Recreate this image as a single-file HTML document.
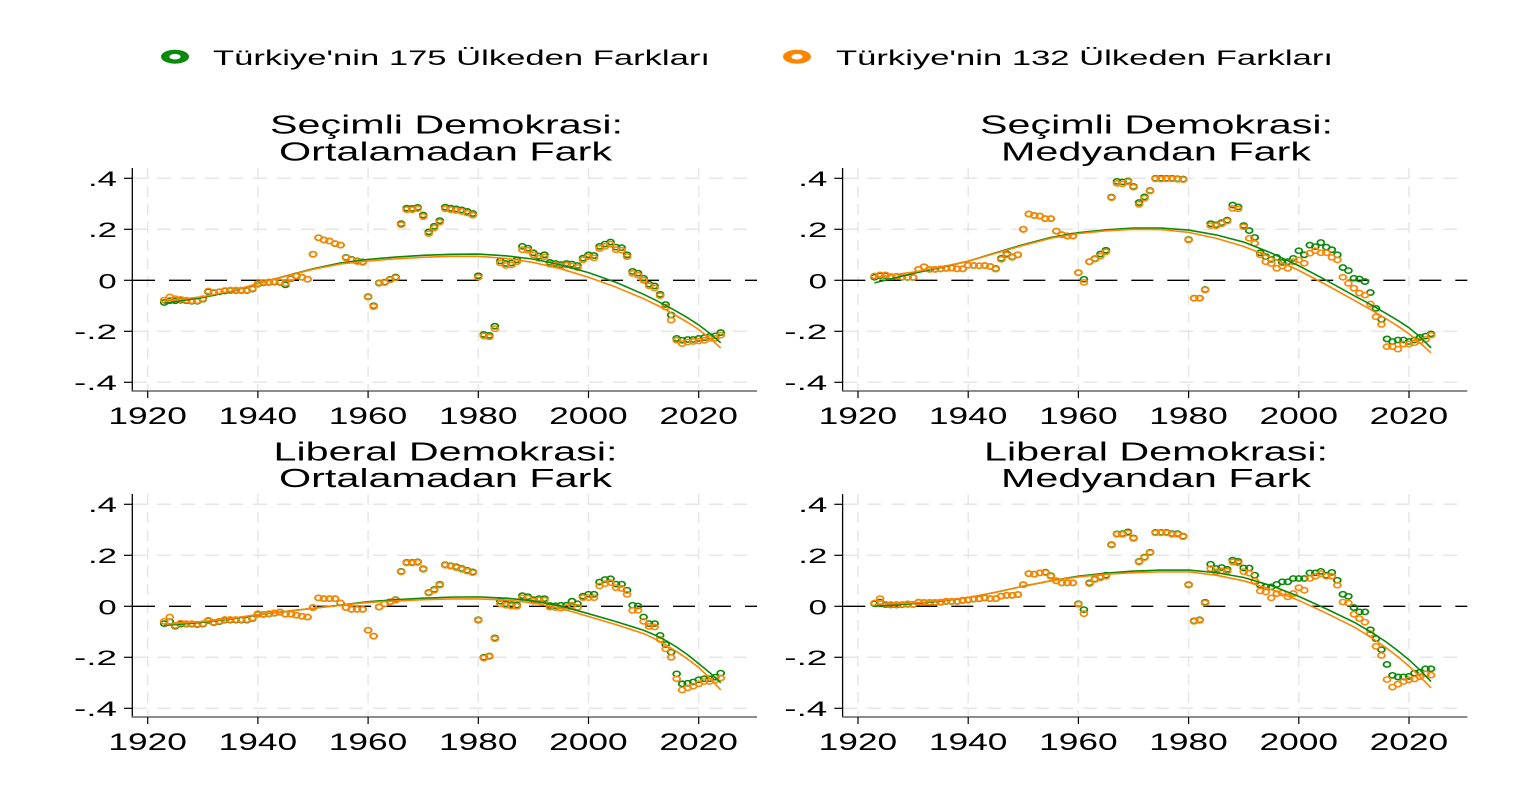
<!DOCTYPE html>
<html><head><meta charset="utf-8"><style>html,body{margin:0;padding:0;background:#fff}svg{display:block}text{font-family:"Liberation Sans",Arial,sans-serif;fill:#000}</style></head>
<body>
<svg width="1515" height="792" viewBox="0 0 1515 792" xmlns="http://www.w3.org/2000/svg">
<rect width="1515" height="792" fill="#fff"/>
<defs>
<marker id="mg" markerUnits="userSpaceOnUse" overflow="visible" style="overflow:visible" refX="0" refY="0" markerWidth="1" markerHeight="1" orient="0">
<path fill="#0a8a0a" fill-rule="evenodd" d="M-0.79,0 A0.79,0.0133 0 1 0 0.79,0 A0.79,0.0133 0 1 0 -0.79,0 Z M-0.46,0 A0.46,0.0074 0 1 0 0.46,0 A0.46,0.0074 0 1 0 -0.46,0 Z"/>
</marker>
<marker id="mo" markerUnits="userSpaceOnUse" overflow="visible" style="overflow:visible" refX="0" refY="0" markerWidth="1" markerHeight="1" orient="0">
<path fill="#ff8400" fill-rule="evenodd" d="M-0.79,0 A0.79,0.0133 0 1 0 0.79,0 A0.79,0.0133 0 1 0 -0.79,0 Z M-0.46,0 A0.46,0.0074 0 1 0 0.46,0 A0.46,0.0074 0 1 0 -0.46,0 Z"/>
</marker>
<g id="frame">
<g stroke="#e6e6e6" stroke-width="1.5" stroke-dasharray="14 10" fill="none">
<line x1="133" y1="178.3" x2="757" y2="178.3"/>
<line x1="133" y1="229.3" x2="757" y2="229.3"/>
<line x1="133" y1="331.3" x2="757" y2="331.3"/>
<line x1="133" y1="382.3" x2="757" y2="382.3"/>
</g>
<g stroke="#e6e6e6" stroke-width="1.5" stroke-dasharray="11 7" fill="none">
<line x1="147.7" y1="168" x2="147.7" y2="390"/>
<line x1="257.9" y1="168" x2="257.9" y2="390"/>
<line x1="368.1" y1="168" x2="368.1" y2="390"/>
<line x1="478.3" y1="168" x2="478.3" y2="390"/>
<line x1="588.5" y1="168" x2="588.5" y2="390"/>
<line x1="698.7" y1="168" x2="698.7" y2="390"/>
</g>
<line x1="133" y1="280.3" x2="757" y2="280.3" stroke="#000" stroke-width="1.3" stroke-dasharray="22 14"/>
<line x1="132.3" y1="168" x2="132.3" y2="391.5" stroke="#000" stroke-width="1.3"/>
<line x1="131.7" y1="391" x2="757" y2="391" stroke="#666" stroke-width="1.5"/>
<g stroke="#000" stroke-width="1.2">
<line x1="124" y1="178.3" x2="132" y2="178.3"/>
<line x1="124" y1="229.3" x2="132" y2="229.3"/>
<line x1="124" y1="280.3" x2="132" y2="280.3"/>
<line x1="124" y1="331.3" x2="132" y2="331.3"/>
<line x1="124" y1="382.3" x2="132" y2="382.3"/>
<line x1="147.7" y1="391" x2="147.7" y2="398"/>
<line x1="257.9" y1="391" x2="257.9" y2="398"/>
<line x1="368.1" y1="391" x2="368.1" y2="398"/>
<line x1="478.3" y1="391" x2="478.3" y2="398"/>
<line x1="588.5" y1="391" x2="588.5" y2="398"/>
<line x1="698.7" y1="391" x2="698.7" y2="398"/>
</g>
<g font-size="21">
<text x="88" y="186" textLength="29" lengthAdjust="spacingAndGlyphs">.4</text>
<text x="88" y="237" textLength="29" lengthAdjust="spacingAndGlyphs">.2</text>
<text x="98.3" y="288.3" textLength="18.4" lengthAdjust="spacingAndGlyphs">0</text>
<text x="74" y="339" textLength="43" lengthAdjust="spacingAndGlyphs">-.2</text>
<text x="74" y="390" textLength="43" lengthAdjust="spacingAndGlyphs">-.4</text>
</g>
<g font-size="24">
<text x="108.4" y="424" textLength="78.5" lengthAdjust="spacingAndGlyphs">1920</text>
<text x="218.6" y="424" textLength="78.5" lengthAdjust="spacingAndGlyphs">1940</text>
<text x="328.8" y="424" textLength="78.5" lengthAdjust="spacingAndGlyphs">1960</text>
<text x="439" y="424" textLength="78.5" lengthAdjust="spacingAndGlyphs">1980</text>
<text x="549.2" y="424" textLength="78.5" lengthAdjust="spacingAndGlyphs">2000</text>
<text x="659.4" y="424" textLength="78.5" lengthAdjust="spacingAndGlyphs">2020</text>
</g>
</g>
</defs>

<!-- Legend -->
<ellipse cx="175" cy="56.7" rx="14" ry="7" fill="#0a8a0a"/>
<ellipse cx="175" cy="56.7" rx="5.6" ry="2.8" fill="#fff"/>
<text x="213" y="65" font-size="21" textLength="497" lengthAdjust="spacingAndGlyphs">Türkiye'nin 175 Ülkeden Farkları</text>
<ellipse cx="797" cy="56.7" rx="14" ry="7" fill="#ff8400"/>
<ellipse cx="797" cy="56.7" rx="5.6" ry="2.8" fill="#fff"/>
<text x="836" y="65" font-size="21" textLength="497" lengthAdjust="spacingAndGlyphs">Türkiye'nin 132 Ülkeden Farkları</text>

<!-- Frames -->
<use href="#frame"/>
<use href="#frame" transform="translate(710.3,0)"/>
<use href="#frame" transform="translate(0,326)"/>
<use href="#frame" transform="translate(710.3,326)"/>

<!-- Titles -->
<g font-size="25.5">
<text x="270" y="133.3" textLength="353" lengthAdjust="spacingAndGlyphs">Seçimli Demokrasi:</text>
<text x="279" y="160.7" textLength="333" lengthAdjust="spacingAndGlyphs">Ortalamadan Fark</text>
<text x="980" y="133.3" textLength="353" lengthAdjust="spacingAndGlyphs">Seçimli Demokrasi:</text>
<text x="1001" y="160.7" textLength="310" lengthAdjust="spacingAndGlyphs">Medyandan Fark</text>
<text x="273.5" y="460.5" textLength="344" lengthAdjust="spacingAndGlyphs">Liberal Demokrasi:</text>
<text x="279" y="487" textLength="333" lengthAdjust="spacingAndGlyphs">Ortalamadan Fark</text>
<text x="984" y="460.5" textLength="344" lengthAdjust="spacingAndGlyphs">Liberal Demokrasi:</text>
<text x="1001" y="487" textLength="310" lengthAdjust="spacingAndGlyphs">Medyandan Fark</text>
</g>

<!-- TL -->
<g transform="translate(147.7,280.3) scale(5.51,-255)">
<path fill="none" stroke="none" marker-start="url(#mg)" marker-mid="url(#mg)" marker-end="url(#mg)" d="M3,-0.087 4,-0.08 5,-0.08 6,-0.078 7,-0.08 8,-0.082 9,-0.082 10,-0.074 11,-0.045 12,-0.049 13,-0.045 14,-0.042 15,-0.04 16,-0.04 17,-0.04 18,-0.04 19,-0.034 20,-0.015 21,-0.01 22,-0.008 23,-0.007 24,-0.008 25,-0.018 26,0.006 27,0.016 28,0.012 29,0.004 30,0.102 31,0.167 32,0.158 33,0.154 34,0.144 35,0.138 36,0.09 37,0.082 38,0.076 39,0.072 40,-0.064 41,-0.1 42,-0.01 43,-0.007 44,0.004 45,0.013 46,0.222 47,0.283 48,0.282 49,0.286 50,0.256 51,0.19 52,0.212 53,0.234 54,0.287 55,0.283 56,0.28 57,0.276 58,0.27 59,0.262 60,0.018 61,-0.212 62,-0.216 63,-0.18 64,0.076 65,0.066 66,0.068 67,0.08 68,0.133 69,0.126 70,0.108 71,0.095 72,0.1 73,0.07 74,0.066 75,0.062 76,0.066 77,0.064 78,0.058 79,0.087 80,0.1 81,0.097 82,0.133 83,0.142 84,0.15 85,0.13 86,0.128 87,0.1 88,0.035 89,0.028 90,0.008 91,-0.015 92,-0.022 93,-0.055 94,-0.095 95,-0.136 96,-0.228 97,-0.235 98,-0.232 99,-0.232 100,-0.228 101,-0.225 102,-0.22 103,-0.218 104,-0.205"/>
<path fill="none" stroke="none" marker-start="url(#mo)" marker-mid="url(#mo)" marker-end="url(#mo)" d="M3,-0.078 4,-0.065 5,-0.072 6,-0.075 7,-0.078 8,-0.08 9,-0.08 10,-0.072 11,-0.042 12,-0.047 13,-0.045 14,-0.04 15,-0.038 16,-0.038 17,-0.038 18,-0.038 19,-0.032 20,-0.013 21,-0.008 22,-0.006 23,-0.005 24,-0.006 25,-0.012 26,0.008 27,0.018 28,0.012 29,0.004 30,0.102 31,0.167 32,0.158 33,0.154 34,0.144 35,0.138 36,0.088 37,0.08 38,0.074 39,0.07 40,-0.066 41,-0.103 42,-0.012 43,-0.009 44,0.002 45,0.01 46,0.218 47,0.277 48,0.277 49,0.281 50,0.25 51,0.183 52,0.205 53,0.228 54,0.28 55,0.277 56,0.274 57,0.27 58,0.264 59,0.255 60,0.012 61,-0.218 62,-0.222 63,-0.19 64,0.068 65,0.058 66,0.06 67,0.073 68,0.12 69,0.118 70,0.1 71,0.086 72,0.092 73,0.063 74,0.06 75,0.056 76,0.06 77,0.056 78,0.05 79,0.08 80,0.093 81,0.088 82,0.125 83,0.133 84,0.142 85,0.12 86,0.118 87,0.093 88,0.027 89,0.02 90,0 91,-0.022 92,-0.03 93,-0.06 94,-0.105 95,-0.156 96,-0.235 97,-0.248 98,-0.242 99,-0.24 100,-0.238 101,-0.235 102,-0.228 103,-0.228 104,-0.215"/>
<path fill="none" stroke="#0a8a0a" stroke-width="1.6" vector-effect="non-scaling-stroke" stroke-linejoin="round" d="M3,-0.09 10,-0.068 15,-0.045 20,-0.013 25,0.017 30,0.045 35,0.068 40,0.082 45,0.091 50,0.098 55,0.102 60,0.103 65,0.096 70,0.083 75,0.06 80,0.03 85,-0.008 90,-0.055 92,-0.076 94,-0.098 96,-0.122 98,-0.147 100,-0.175 102,-0.208 104,-0.245"/>
<path fill="none" stroke="#ff8400" stroke-width="1.6" vector-effect="non-scaling-stroke" stroke-linejoin="round" d="M3,-0.082 10,-0.064 15,-0.043 20,-0.013 25,0.016 30,0.043 35,0.064 40,0.076 45,0.084 50,0.09 55,0.094 60,0.094 65,0.086 70,0.07 75,0.045 80,0.012 85,-0.027 90,-0.072 92,-0.093 94,-0.115 96,-0.14 98,-0.165 100,-0.193 102,-0.227 104,-0.265"/>
</g>

<!-- TR -->
<g transform="translate(858,280.3) scale(5.51,-255)">
<path fill="none" stroke="none" marker-start="url(#mg)" marker-mid="url(#mg)" marker-end="url(#mg)" d="M3,0.012 4,0.018 5,0.018 6,0.013 7,0.014 8,0.012 9,0.011 10,0.011 11,0.043 12,0.053 13,0.043 14,0.043 15,0.045 16,0.047 17,0.048 18,0.045 19,0.045 20,0.059 21,0.058 22,0.057 23,0.058 24,0.054 25,0.046 26,0.086 27,0.104 28,0.092 29,0.1 30,0.2 31,0.26 32,0.254 33,0.252 34,0.242 35,0.242 36,0.193 37,0.179 38,0.174 39,0.174 40,0.03 41,0.004 42,0.073 43,0.085 44,0.103 45,0.118 46,0.326 47,0.388 48,0.386 49,0.39 50,0.368 51,0.305 52,0.327 53,0.352 54,0.4 55,0.4 56,0.4 57,0.4 58,0.398 59,0.397 60,0.16 61,-0.07 62,-0.07 63,-0.036 64,0.222 65,0.218 66,0.226 67,0.236 68,0.295 69,0.288 70,0.215 71,0.195 72,0.168 73,0.108 74,0.093 75,0.082 76,0.09 77,0.07 78,0.073 79,0.086 80,0.116 81,0.1 82,0.138 83,0.132 84,0.148 85,0.13 86,0.12 87,0.1 88,0.05 89,0.038 90,0.008 91,0.005 92,-0.005 93,-0.048 94,-0.11 95,-0.153 96,-0.23 97,-0.24 98,-0.234 99,-0.234 100,-0.24 101,-0.234 102,-0.224 103,-0.219 104,-0.21"/>
<path fill="none" stroke="none" marker-start="url(#mo)" marker-mid="url(#mo)" marker-end="url(#mo)" d="M3,0.017 4,0.021 5,0.021 6,0.015 7,0.016 8,0.013 9,0.012 10,0.012 11,0.043 12,0.053 13,0.043 14,0.043 15,0.045 16,0.047 17,0.048 18,0.045 19,0.045 20,0.059 21,0.058 22,0.057 23,0.058 24,0.054 25,0.044 26,0.082 27,0.1 28,0.09 29,0.1 30,0.2 31,0.26 32,0.254 33,0.252 34,0.242 35,0.242 36,0.193 37,0.179 38,0.174 39,0.174 40,0.03 41,-0.008 42,0.073 43,0.083 44,0.095 45,0.112 46,0.324 47,0.38 48,0.378 49,0.387 50,0.365 51,0.298 52,0.322 53,0.35 54,0.398 55,0.397 56,0.398 57,0.398 58,0.396 59,0.395 60,0.158 61,-0.071 62,-0.071 63,-0.038 64,0.215 65,0.214 66,0.222 67,0.232 68,0.282 69,0.28 70,0.21 71,0.165 72,0.145 73,0.1 74,0.073 75,0.066 76,0.047 77,0.056 78,0.047 79,0.073 80,0.08 81,0.067 82,0.106 83,0.116 84,0.108 85,0.108 86,0.09 87,0.08 88,0.012 89,-0.012 90,-0.031 91,-0.05 92,-0.058 93,-0.093 94,-0.143 95,-0.173 96,-0.26 97,-0.26 98,-0.27 99,-0.25 100,-0.25 101,-0.245 102,-0.237 103,-0.232 104,-0.215"/>
<path fill="none" stroke="#0a8a0a" stroke-width="1.6" vector-effect="non-scaling-stroke" stroke-linejoin="round" d="M3,-0.01 10,0.027 15,0.05 20,0.075 25,0.108 30,0.14 35,0.168 40,0.187 45,0.198 50,0.205 55,0.205 60,0.197 65,0.178 70,0.15 75,0.107 80,0.057 85,0.0 90,-0.06 92,-0.083 94,-0.107 96,-0.132 98,-0.158 100,-0.186 102,-0.222 104,-0.265"/>
<path fill="none" stroke="#ff8400" stroke-width="1.6" vector-effect="non-scaling-stroke" stroke-linejoin="round" d="M3,0.012 10,0.032 15,0.052 20,0.075 25,0.106 30,0.137 35,0.165 40,0.183 45,0.194 50,0.2 55,0.199 60,0.188 65,0.165 70,0.133 75,0.09 80,0.039 85,-0.018 90,-0.078 92,-0.102 94,-0.127 96,-0.153 98,-0.18 100,-0.21 102,-0.245 104,-0.285"/>
</g>

<!-- BL -->
<g transform="translate(147.7,606.3) scale(5.51,-255)">
<path fill="none" stroke="none" marker-start="url(#mg)" marker-mid="url(#mg)" marker-end="url(#mg)" d="M3,-0.068 4,-0.06 5,-0.078 6,-0.07 7,-0.07 8,-0.07 9,-0.072 10,-0.07 11,-0.057 12,-0.064 13,-0.06 14,-0.054 15,-0.054 16,-0.054 17,-0.054 18,-0.054 19,-0.048 20,-0.031 21,-0.032 22,-0.03 23,-0.027 24,-0.023 25,-0.031 26,-0.031 27,-0.035 28,-0.039 29,-0.042 30,-0.005 31,0.033 32,0.03 33,0.03 34,0.03 35,0.013 36,-0.005 37,-0.012 38,-0.012 39,-0.012 40,-0.094 41,-0.117 42,-0.003 43,0.01 44,0.018 45,0.026 46,0.137 47,0.172 48,0.172 49,0.174 50,0.147 51,0.054 52,0.066 53,0.086 54,0.163 55,0.159 56,0.155 57,0.148 58,0.141 59,0.135 60,-0.053 61,-0.2 62,-0.195 63,-0.124 64,0.02 65,0.01 66,0.006 67,0.005 68,0.042 69,0.038 70,0.026 71,0.03 72,0.03 73,0.003 74,0.002 75,0.004 76,0.004 77,0.02 78,0.01 79,0.04 80,0.047 81,0.047 82,0.095 83,0.105 84,0.108 85,0.087 86,0.087 87,0.063 88,0.004 89,0.001 90,-0.042 91,-0.068 92,-0.068 93,-0.114 94,-0.15 95,-0.18 96,-0.265 97,-0.304 98,-0.302 99,-0.297 100,-0.288 101,-0.284 102,-0.284 103,-0.278 104,-0.262"/>
<path fill="none" stroke="none" marker-start="url(#mo)" marker-mid="url(#mo)" marker-end="url(#mo)" d="M3,-0.059 4,-0.042 5,-0.075 6,-0.066 7,-0.068 8,-0.068 9,-0.07 10,-0.068 11,-0.055 12,-0.062 13,-0.058 14,-0.052 15,-0.052 16,-0.052 17,-0.052 18,-0.052 19,-0.046 20,-0.029 21,-0.031 22,-0.029 23,-0.026 24,-0.022 25,-0.031 26,-0.031 27,-0.035 28,-0.039 29,-0.042 30,-0.005 31,0.033 32,0.03 33,0.03 34,0.03 35,0.013 36,-0.005 37,-0.012 38,-0.012 39,-0.012 40,-0.094 41,-0.117 42,-0.003 43,0.01 44,0.017 45,0.024 46,0.135 47,0.17 48,0.17 49,0.172 50,0.145 51,0.052 52,0.063 53,0.083 54,0.161 55,0.157 56,0.152 57,0.145 58,0.138 59,0.132 60,-0.055 61,-0.203 62,-0.197 63,-0.127 64,0.01 65,0.004 66,0.001 67,0 68,0.034 69,0.032 70,0.02 71,0.024 72,0.024 73,-0.003 74,-0.005 75,-0.007 76,-0.005 77,0.004 78,-0.004 79,0.034 80,0.034 81,0.034 82,0.08 83,0.089 84,0.093 85,0.073 86,0.07 87,0.047 88,-0.016 89,-0.016 90,-0.059 91,-0.079 92,-0.081 93,-0.13 94,-0.167 95,-0.2 96,-0.284 97,-0.328 98,-0.32 99,-0.313 100,-0.304 101,-0.295 102,-0.295 103,-0.289 104,-0.281"/>
<path fill="none" stroke="#0a8a0a" stroke-width="1.6" vector-effect="non-scaling-stroke" stroke-linejoin="round" d="M3,-0.075 10,-0.063 15,-0.05 20,-0.033 25,-0.02 30,-0.008 35,0.005 40,0.018 45,0.026 50,0.032 55,0.036 60,0.037 65,0.032 70,0.021 75,0.001 80,-0.029 85,-0.06 90,-0.094 92,-0.112 94,-0.134 96,-0.16 98,-0.19 100,-0.225 102,-0.26 104,-0.3"/>
<path fill="none" stroke="#ff8400" stroke-width="1.6" vector-effect="non-scaling-stroke" stroke-linejoin="round" d="M3,-0.07 10,-0.06 15,-0.048 20,-0.032 25,-0.02 30,-0.008 35,0.004 40,0.015 45,0.021 50,0.026 55,0.029 60,0.029 65,0.025 70,0.013 75,-0.008 80,-0.04 85,-0.072 90,-0.107 92,-0.127 94,-0.151 96,-0.178 98,-0.207 100,-0.24 102,-0.282 104,-0.328"/>
</g>

<!-- BR -->
<g transform="translate(858,606.3) scale(5.51,-255)">
<path fill="none" stroke="none" marker-start="url(#mg)" marker-mid="url(#mg)" marker-end="url(#mg)" d="M3,0.01 4,0.017 5,0.006 6,0.005 7,0.005 8,0.006 9,0.008 10,0.007 11,0.016 12,0.015 13,0.015 14,0.015 15,0.016 16,0.019 17,0.019 18,0.019 19,0.023 20,0.025 21,0.028 22,0.029 23,0.033 24,0.03 25,0.03 26,0.04 27,0.043 28,0.043 29,0.046 30,0.085 31,0.128 32,0.126 33,0.131 34,0.134 35,0.12 36,0.1 37,0.092 38,0.092 39,0.092 40,0.01 41,-0.013 42,0.092 43,0.107 44,0.115 45,0.122 46,0.242 47,0.284 48,0.285 49,0.292 50,0.268 51,0.176 52,0.193 53,0.212 54,0.29 55,0.29 56,0.29 57,0.285 58,0.285 59,0.275 60,0.085 61,-0.057 62,-0.053 63,0.016 64,0.165 65,0.148 66,0.152 67,0.145 68,0.181 69,0.176 70,0.15 71,0.15 72,0.122 73,0.083 74,0.076 75,0.076 76,0.086 77,0.096 78,0.096 79,0.109 80,0.109 81,0.109 82,0.131 83,0.131 84,0.137 85,0.122 86,0.133 87,0.102 88,0.047 89,0.039 90,-0.005 91,-0.022 92,-0.022 93,-0.092 94,-0.127 95,-0.17 96,-0.228 97,-0.271 98,-0.277 99,-0.277 100,-0.275 101,-0.262 102,-0.258 103,-0.245 104,-0.245"/>
<path fill="none" stroke="none" marker-start="url(#mo)" marker-mid="url(#mo)" marker-end="url(#mo)" d="M3,0.013 4,0.03 5,0.008 6,0.007 7,0.007 8,0.007 9,0.01 10,0.008 11,0.017 12,0.016 13,0.016 14,0.016 15,0.017 16,0.02 17,0.02 18,0.02 19,0.024 20,0.026 21,0.029 22,0.03 23,0.034 24,0.03 25,0.03 26,0.04 27,0.043 28,0.043 29,0.046 30,0.085 31,0.128 32,0.126 33,0.131 34,0.132 35,0.118 36,0.1 37,0.092 38,0.092 39,0.092 40,0.008 41,-0.029 42,0.089 43,0.105 44,0.112 45,0.118 46,0.24 47,0.282 48,0.282 49,0.288 50,0.266 51,0.174 52,0.191 53,0.21 54,0.288 55,0.288 56,0.288 57,0.282 58,0.282 59,0.273 60,0.083 61,-0.059 62,-0.055 63,0.013 64,0.148 65,0.135 66,0.139 67,0.138 68,0.174 69,0.17 70,0.136 71,0.13 72,0.1 73,0.06 74,0.056 75,0.033 76,0.05 77,0.052 78,0.037 79,0.05 80,0.073 81,0.063 82,0.109 83,0.118 84,0.128 85,0.118 86,0.118 87,0.083 88,0.017 89,0.013 90,-0.031 91,-0.048 92,-0.062 93,-0.107 94,-0.157 95,-0.193 96,-0.287 97,-0.317 98,-0.305 99,-0.295 100,-0.288 101,-0.285 102,-0.276 103,-0.265 104,-0.27"/>
<path fill="none" stroke="#0a8a0a" stroke-width="1.6" vector-effect="non-scaling-stroke" stroke-linejoin="round" d="M3,0.0 10,0.01 15,0.02 20,0.034 25,0.055 30,0.079 35,0.1 40,0.118 45,0.13 50,0.138 55,0.142 60,0.142 65,0.132 70,0.113 75,0.081 80,0.039 85,-0.01 90,-0.062 92,-0.087 94,-0.113 96,-0.142 98,-0.175 100,-0.21 102,-0.25 104,-0.295"/>
<path fill="none" stroke="#ff8400" stroke-width="1.6" vector-effect="non-scaling-stroke" stroke-linejoin="round" d="M3,0.008 10,0.013 15,0.022 20,0.034 25,0.055 30,0.079 35,0.1 40,0.115 45,0.126 50,0.132 55,0.135 60,0.135 65,0.122 70,0.1 75,0.066 80,0.023 85,-0.027 90,-0.081 92,-0.107 94,-0.135 96,-0.165 98,-0.198 100,-0.235 102,-0.276 104,-0.32"/>
</g>
</svg>
</body></html>
